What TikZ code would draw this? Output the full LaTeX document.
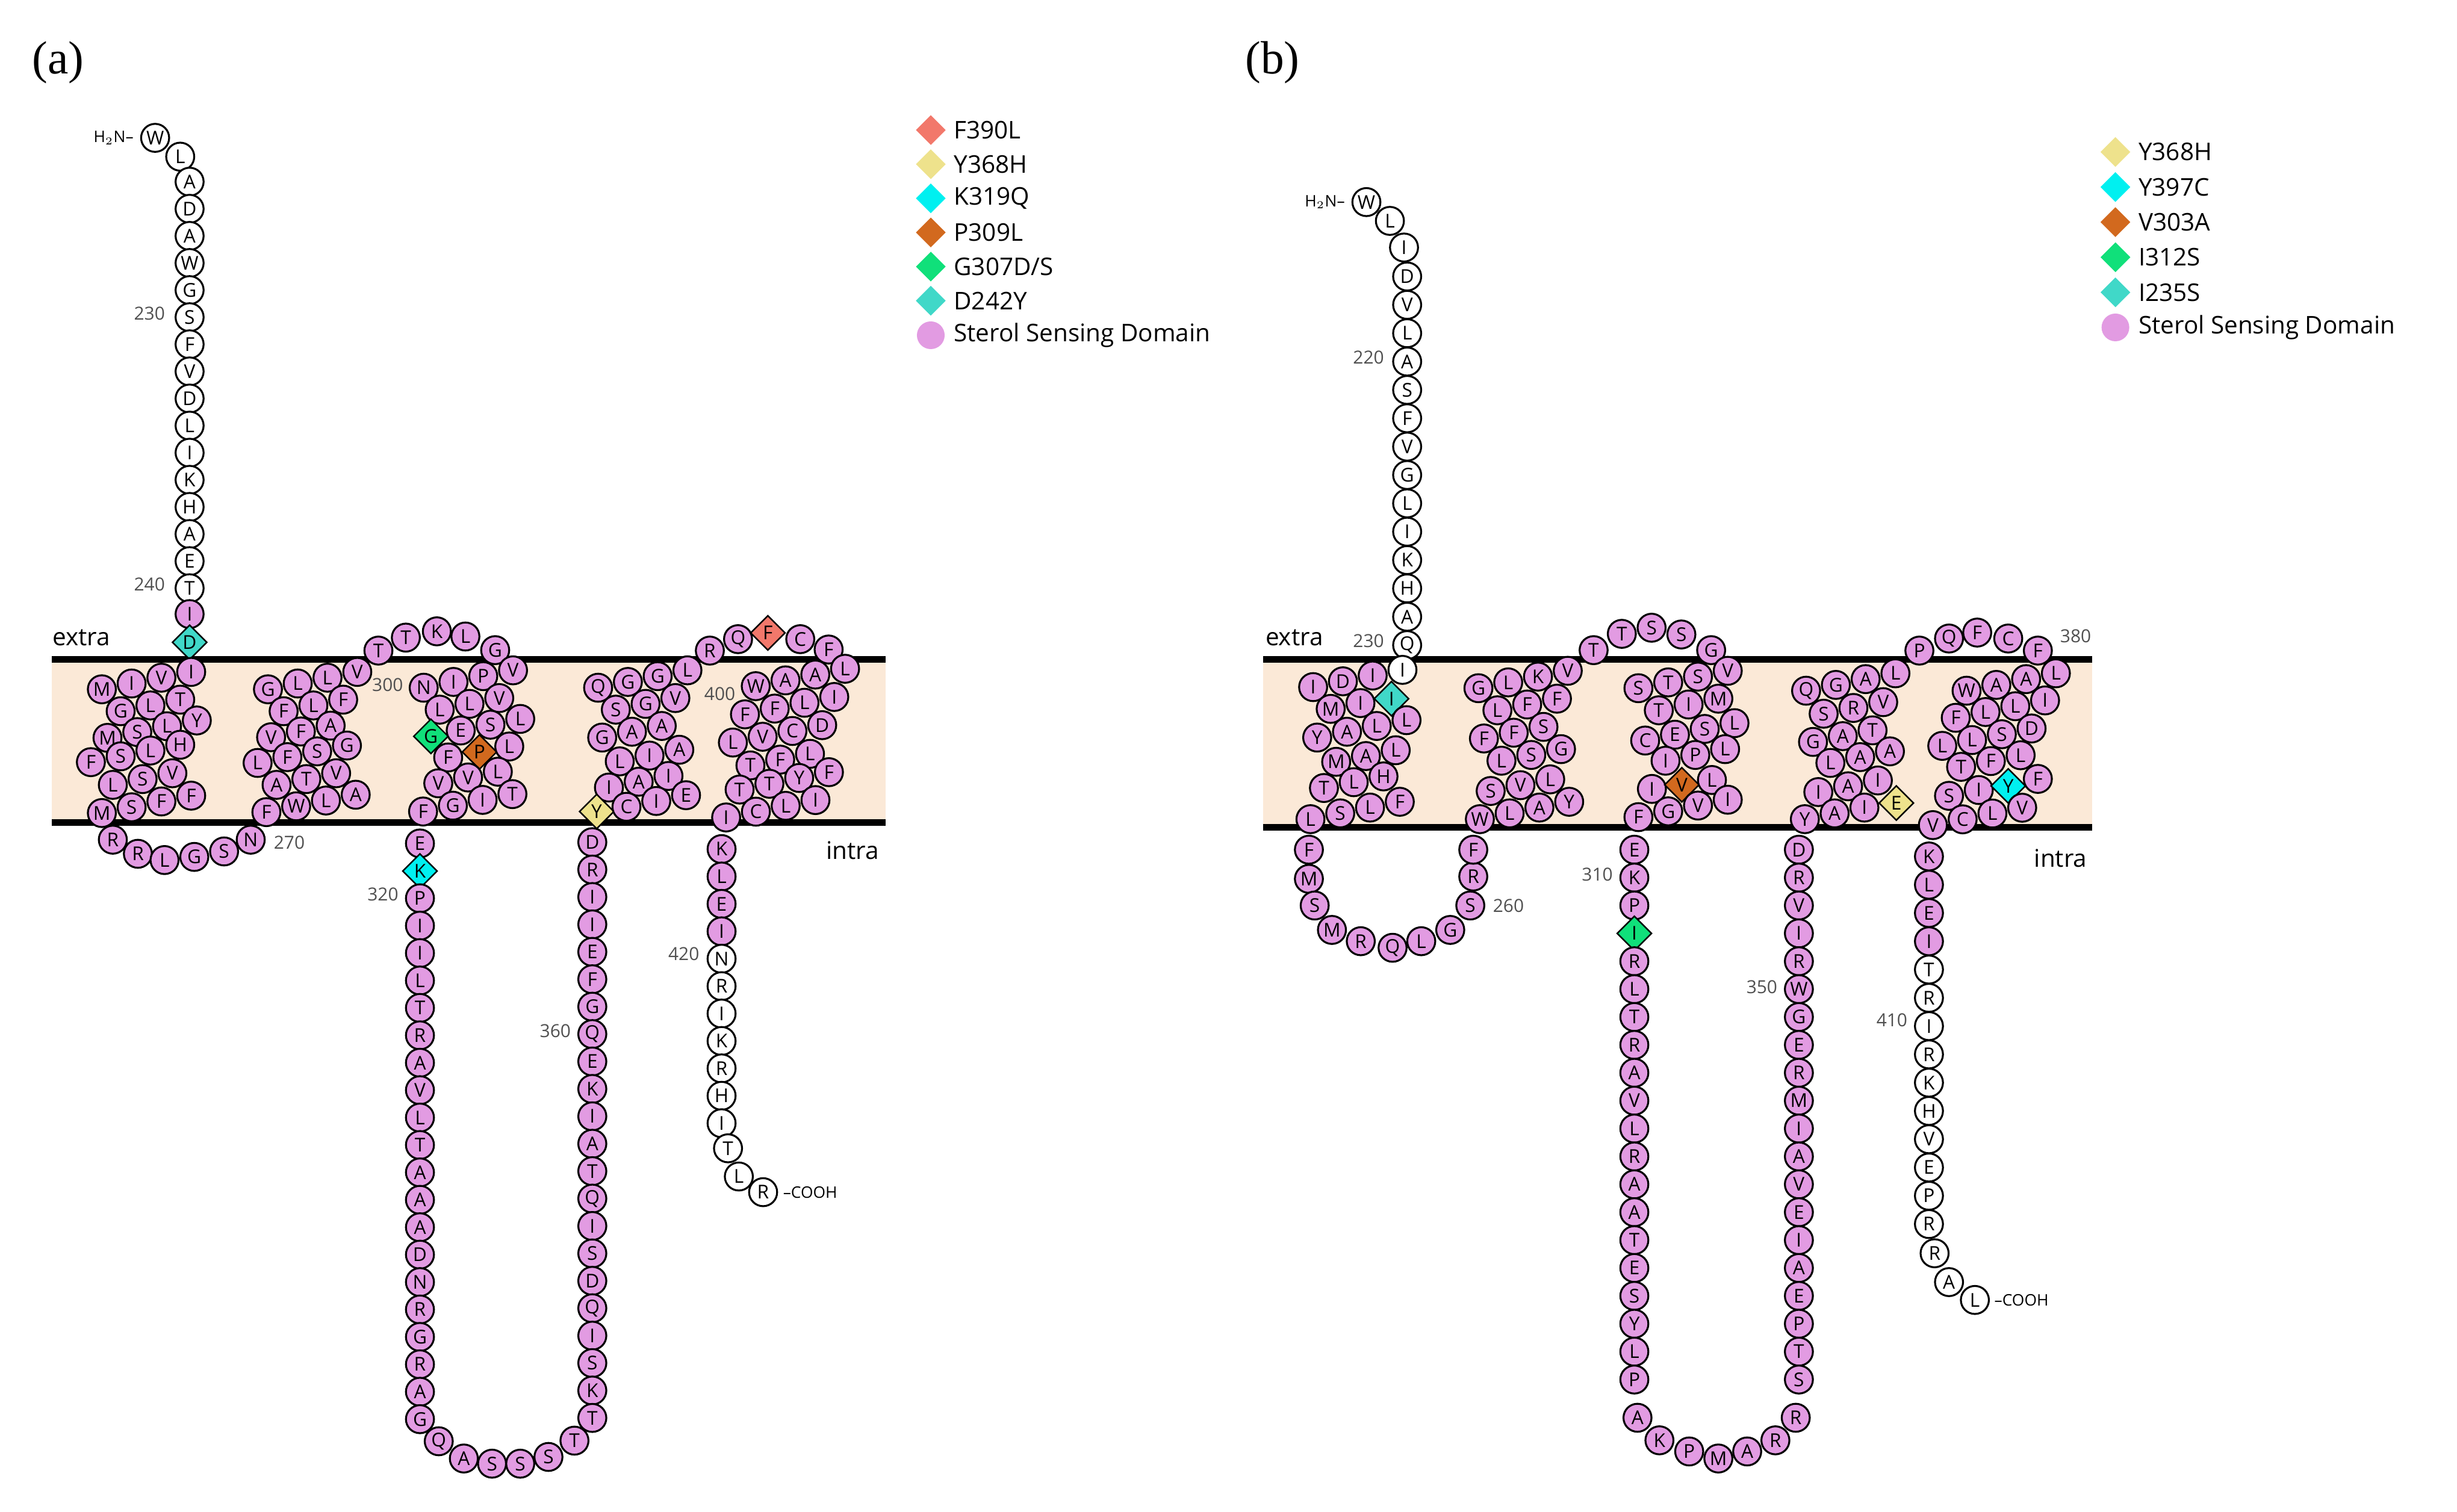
\documentclass[tikz,border=0pt]{standalone}
\usepackage{fontspec}
\setmainfont{Open Sans}
\newfontfamily\panelfont{Liberation Serif}
\usetikzlibrary{shapes.geometric}
\definecolor{resfill}{HTML}{E29BE2}
\definecolor{membfill}{HTML}{FBE9D7}
\definecolor{mSalmon}{HTML}{F2786B}
\definecolor{mKhaki}{HTML}{EEE28C}
\definecolor{mCyan}{HTML}{00F0F0}
\definecolor{mOrange}{HTML}{D2691E}
\definecolor{mGreen}{HTML}{10E07A}
\definecolor{mTurq}{HTML}{40D8C8}
\definecolor{numgray}{HTML}{505050}

\tikzset{
  res/.style={circle, draw=black, line width=0.9pt, fill=resfill, minimum size=0.465cm,
    inner sep=0pt, font=\fontsize{9}{9}\selectfont},
  wres/.style={res, fill=white},
  mut/.style={diamond, draw=black, line width=0.7pt, fill=#1, minimum size=0.58cm,
    inner sep=0pt, font=\fontsize{9}{9}\selectfont},
  num/.style={font=\fontsize{8.5}{8.5}\selectfont, text=numgray},
  side/.style={font=\fontsize{11.5}{11.5}\selectfont},
  legtxt/.style={anchor=west, font=\fontsize{11.5}{11.5}\selectfont},
  memline/.style={line width=3pt, black},
}
% one tilted row of a helix bundle
\newcommand{\hrow}[4]{%
  \foreach \l [count=\k from 0] in {#4}{
    \node[res] (#1-\k) at ({#2+19*\k},{#3-3.7*\k}) {\l};}}
% a straight column of residues
\newcommand{\vcol}[6]{%
  \foreach \l [count=\k from 0] in {#6}{
    \node[#1] (#2-\k) at (#3,{#4+#5*\k}) {\l};}}

\begin{document}
\begin{tikzpicture}[x=0.026cm, y=-0.026cm]
  \useasboundingbox (0,0) rectangle (1568,965);

  % ================= panel (a) =================
  \node[font=\panelfont\fontsize{22}{22}\selectfont] (pa) at (37,40) {(a)};
  \fill[membfill] (33,421) rectangle (565,525);
  \draw[memline] (33,421) coordinate (atl) -- (565,421) coordinate (atr);
  \draw[memline] (33,525) coordinate (abl) -- (565,525) coordinate (abr);
  \node[side] (aextra) at (52,407) {extra};
  \node[side] (aintra) at (544,543) {intra};

  % N terminus
  \node[anchor=east, font=\fontsize{7.5}{7.5}\selectfont] (anh) at (90,88) {H$_2$N--};
  \node[wres] (an0) at (99,88) {W};
  \node[wres] (an1) at (115,100) {L};
  \vcol{wres}{anc}{121}{116}{17.3}{A,D,A,W,G,S,F,V,D,L,I,K,H,A,E,T}
  \node[res] (an2) at (121,392) {I};
  \node[mut=mTurq] (aD242) at (121,410) {D};
  \node[num, anchor=east] (a230) at (110,200) {230};
  \node[num, anchor=east] (a240) at (110,373) {240};

  % helix 1
  \hrow{a1r1}{65}{440}{M,I,V,I}
  \hrow{a1r2}{77}{454}{G,L,T}
  \hrow{a1r3}{68.6}{471}{M,S,L,Y}
  \hrow{a1r4}{58}{486.5}{F,S,L,H}
  \hrow{a1r5}{72}{501}{L,S,V}
  \hrow{a1r6}{65}{519}{M,S,F,F}
  \foreach \x/\y/\l [count=\k] in {72/536/R,88/545/R,105/549/L,124/547/G,143/543.5/S,160/536/N}
    \node[res] (al1-\k) at (\x,\y) {\l};
  \node[num, anchor=west] (a270) at (170,538) {270};

  % helix 2
  \hrow{a2r1}{171}{440}{G,L,L,V}
  \hrow{a2r2}{181}{454}{F,L,F}
  \hrow{a2r3}{173}{470.6}{V,F,A}
  \hrow{a2r4}{164.4}{487}{L,F,S,G}
  \hrow{a2r5}{176.5}{501}{A,T,V}
  \hrow{a2r6}{170}{518.4}{F,W,L,A}
  \foreach \x/\y/\l [count=\k] in {241.5/415.3/T,259/407/T,278.8/403/K,297/406.3/L,316/415/G}
    \node[res] (al2-\k) at (\x,\y) {\l};

  % helix 3
  \hrow{a3r1}{270.4}{439}{N,I,P,V}
  \hrow{a3r2}{280.6}{453}{L,L,V}
  \node[mut=mGreen] (aG307) at (275,470) {G};
  \hrow{a3r3}{294}{466.3}{E,S,L}
  \node[res] (a3r4) at (286,483.5) {F};
  \node[mut=mOrange] (aP309) at (306,480) {P};
  \node[res] (a3r4b) at (325,476.5) {L};
  \hrow{a3r5}{279.7}{500}{V,V,L}
  \hrow{a3r6}{270}{518}{F,G,I,T}
  \node[num, anchor=east] (a300) at (262,437) {300};

  % long intracellular loop
  \node[res] (al3e) at (268,538.4) {E};
  \node[mut=mCyan] (aK319) at (268,556) {K};
  \vcol{res}{al3l}{268}{573.4}{17.5}{P,I,I,L,T,R,A,V,L,T,A,A,A,D,N,R,G,R,A,G}
  \node[num, anchor=east] (a320) at (259,571) {320};
  \foreach \x/\y/\l [count=\k] in {280/920/Q,296/931/A,314/934.3/S,332/934.3/S,350/930/S,366.6/919.6/T}
    \node[res] (al3b-\k) at (\x,\y) {\l};
  \vcol{res}{al3r}{378}{537.6}{17.5}{D,R,I,I,E,F,G,Q,E,K,I,A,T,Q,I,S,D,Q,I,S,K,T}
  \node[num, anchor=east] (a360) at (369,658) {360};

  % helix 4
  \hrow{a4r1}{381.7}{439}{Q,G,G,L}
  \hrow{a4r2}{393}{453}{S,G,V}
  \hrow{a4r3}{384.3}{470.8}{G,A,A}
  \hrow{a4r4}{395.5}{486}{L,I,A}
  \hrow{a4r5}{388.6}{502.7}{I,A,I}
  \node[mut=mKhaki] (aY368) at (380.8,518) {Y};
  \hrow{a4r6}{399.8}{515}{C,I,E}
  \node[res] (al4-1) at (453,415.3) {R};
  \node[res] (al4-2) at (471,408) {Q};
  \node[mut=mSalmon] (aF390) at (490,404) {F};
  \node[res] (al4-3) at (510.7,408) {C};
  \node[res] (al4-4) at (528.8,414.6) {F};

  % helix 5
  \hrow{a5r1}{482.3}{438}{W,A,A,L}
  \hrow{a5r2}{475.4}{456}{F,F,L,I}
  \hrow{a5r3}{467.7}{474}{L,V,C,D}
  \hrow{a5r4}{478.9}{488.6}{T,F,L}
  \hrow{a5r5}{472}{504}{T,T,Y,F}
  \hrow{a5r6}{463.4}{521.8}{I,C,L,I}
  \node[num, anchor=east] (a400) at (474,443) {400};

  % C terminus
  \vcol{res}{acp}{460.5}{542}{17.5}{K,L,E,I}
  \vcol{wres}{acw}{460.5}{612}{17.5}{N,R,I,K,R,H,I}
  \node[wres] (acw-7) at (464.6,733) {T};
  \node[wres] (acw-8) at (471.5,751) {L};
  \node[wres] (acw-9) at (487,761) {R};
  \node[anchor=west, font=\fontsize{7.5}{7.5}\selectfont] (acooh) at (495,761) {--COOH};
  \node[num, anchor=east] (a420) at (451,609) {420};

  % legend (a)
  \foreach \c/\t [count=\k from 0] in {mSalmon/F390L,mKhaki/Y368H,mCyan/K319Q,mOrange/P309L,mGreen/{G307D/S},mTurq/D242Y}{
    \node[diamond, fill=\c, minimum size=0.5cm, inner sep=0pt] (alm\k) at (594,{83+21.8*\k}) {};
    \node[legtxt] (alt\k) at (604,{83+21.8*\k}) {\t};}
  \node[circle, fill=resfill, minimum size=0.46cm, inner sep=0pt] (alm6) at (594,214) {};
  \node[legtxt] (alt6) at (604,214) {Sterol Sensing Domain};

  % ================= panel (b) =================
  \node[font=\panelfont\fontsize{22}{22}\selectfont] (pb) at (812,40) {(b)};
  \fill[membfill] (806,421) rectangle (1335,528);
  \draw[memline] (806,421) coordinate (btl) -- (1335,421) coordinate (btr);
  \draw[memline] (806,528) coordinate (bbl) -- (1335,528) coordinate (bbr);
  \node[side] (bextra) at (826,407) {extra};
  \node[side] (bintra) at (1315,548) {intra};

  % N terminus
  \node[anchor=east, font=\fontsize{7.5}{7.5}\selectfont] (bnh) at (863,129) {H$_2$N--};
  \node[wres] (bn0) at (872,129) {W};
  \node[wres] (bn1) at (887,141) {L};
  \node[wres] (bn2) at (896,158) {I};
  \vcol{wres}{bnc}{898}{176.5}{18.1}{D,V,L,A,S,F,V,G,L,I,K,H,A,Q}
  \node[num, anchor=east] (b220) at (888,228) {220};
  \node[num, anchor=east] (b230) at (888,409) {230};

  % helix 1
  \hrow{b1r1}{838}{438.6}{I,D,I}
  \node[wres] (b1w) at (895,427.6) {I};
  \hrow{b1r2}{849.2}{452.5}{M,I}
  \node[mut=mTurq] (bI235) at (888,446) {I};
  \hrow{b1r3}{840.6}{470.8}{Y,A,L,L}
  \hrow{b1r4}{852.7}{486.3}{M,A,L}
  \hrow{b1r5}{844.9}{503}{T,L,H}
  \hrow{b1r6}{836.3}{522.9}{L,S,L,F}
  \foreach \x/\y/\l [count=\k] in {835.3/542.4/F,835.3/561/M,839/578/S,850/593.6/M,868.4/600.8/R,888.7/605/Q,907/600.8/L,925.5/593.6/G,938.3/578/S,940.2/559.5/R,940.2/542.4/F}
    \node[res] (bl1-\k) at (\x,\y) {\l};
  \node[num, anchor=west] (b260) at (948,578) {260};

  % helix 2
  \hrow{b2r1}{943.5}{439.3}{G,L,K,V}
  \hrow{b2r2}{955.6}{453.4}{L,F,F}
  \hrow{b2r3}{947}{471.4}{F,F,S}
  \hrow{b2r4}{958.2}{485.6}{L,S,G}
  \hrow{b2r5}{951.3}{504.9}{S,V,L}
  \hrow{b2r6}{944.4}{522.9}{W,L,A,Y}
  \foreach \x/\y/\l [count=\k] in {1017/415/T,1035/404.6/T,1054/400.7/S,1073/405/S,1092/415/G}
    \node[res] (bl2-\k) at (\x,\y) {\l};

  % helix 3
  \hrow{b3r1}{1045.6}{439.3}{S,T,S,V}
  \hrow{b3r2}{1058.6}{453.4}{T,I,M}
  \hrow{b3r3}{1049.9}{472.7}{C,E,S,L}
  \hrow{b3r4}{1062.9}{485.6}{I,P,L}
  \node[res] (b3r5a) at (1054.2,503.6) {I};
  \node[mut=mOrange] (bV303) at (1073.3,501) {V};
  \node[res] (b3r5b) at (1092.5,497.9) {L};
  \hrow{b3r6}{1045.6}{521.6}{F,G,V,I}

  % long intracellular loop
  \vcol{res}{bl3a}{1043}{542.4}{17.8}{E,K,P}
  \node[mut=mGreen] (bI312) at (1043,595.8) {I};
  \vcol{res}{bl3l}{1043}{613.6}{17.8}{R,L,T,R,A,V,L,R,A,A,T,E,S,Y,L,P}
  \node[num, anchor=east] (b310) at (1034,558) {310};
  \foreach \x/\y/\l [count=\k] in {1045/905/A,1059/919.4/K,1078/926.5/P,1096.6/931/M,1115/926.5/A,1133/919.4/R,1146/905/R}
    \node[res] (bl3b-\k) at (\x,\y) {\l};
  \vcol{res}{bl3r}{1148}{542.4}{17.8}{D,R,V,I,R,W,G,E,R,M,I,A,V,E,I,A,E,P,T,S}
  \node[num, anchor=east] (b350) at (1139,630) {350};

  % helix 4
  \hrow{b4r1}{1152.6}{440.9}{Q,G,A,L}
  \hrow{b4r2}{1163.8}{455.6}{S,R,V}
  \hrow{b4r3}{1157}{473.6}{G,A,T}
  \hrow{b4r4}{1168.1}{487}{L,A,A}
  \hrow{b4r5}{1160.4}{505.6}{I,A,I}
  \hrow{b4r6}{1151.8}{522.9}{Y,A,I}
  \node[mut=mKhaki] (bE368) at (1210.2,512.6) {E};
  \foreach \x/\y/\l [count=\k] in {1224.9/415.3/P,1243.8/407.6/Q,1261.8/403.8/F,1281.6/407.6/C,1300.5/415.3/F}
    \node[res] (bl4-\k) at (\x,\y) {\l};
  \node[num, anchor=west] (b380) at (1310,406) {380};

  % helix 5
  \hrow{b5r1}{1255}{440.9}{W,A,A,L}
  \hrow{b5r2}{1248.1}{458.2}{F,L,L,I}
  \hrow{b5r3}{1239.5}{476.1}{L,L,S,D}
  \hrow{b5r4}{1251.5}{489.5}{T,F,L}
  \hrow{b5r5}{1243.8}{508}{S,I}
  \node[mut=mCyan] (bY397) at (1281.6,501.7) {Y};
  \node[res] (b5r5c) at (1300.5,497.2) {F};
  \hrow{b5r6}{1233.5}{526.7}{V,C,L,V}

  % C terminus
  \vcol{res}{bcp}{1231}{546.7}{18.05}{K,L,E,I}
  \vcol{wres}{bcw}{1231}{618.9}{18.05}{T,R,I,R,K,H,V,E,P,R}
  \node[wres] (bcw-10) at (1234.6,800) {R};
  \node[wres] (bcw-11) at (1243.8,818.4) {A};
  \node[wres] (bcw-12) at (1260.3,829.8) {L};
  \node[anchor=west, font=\fontsize{7.5}{7.5}\selectfont] (bcooh) at (1268,830) {--COOH};
  \node[num, anchor=east] (b410) at (1222,651) {410};

  % legend (b)
  \foreach \c/\t [count=\k from 0] in {mKhaki/Y368H,mCyan/Y397C,mOrange/V303A,mGreen/I312S,mTurq/I235S}{
    \node[diamond, fill=\c, minimum size=0.5cm, inner sep=0pt] (blm\k) at (1350,{97+22.4*\k}) {};
    \node[legtxt] (blt\k) at (1360,{97+22.4*\k}) {\t};}
  \node[circle, fill=resfill, minimum size=0.46cm, inner sep=0pt] (blm5) at (1350,209) {};
  \node[legtxt] (blt5) at (1360,209) {Sterol Sensing Domain};
\end{tikzpicture}
\end{document}
